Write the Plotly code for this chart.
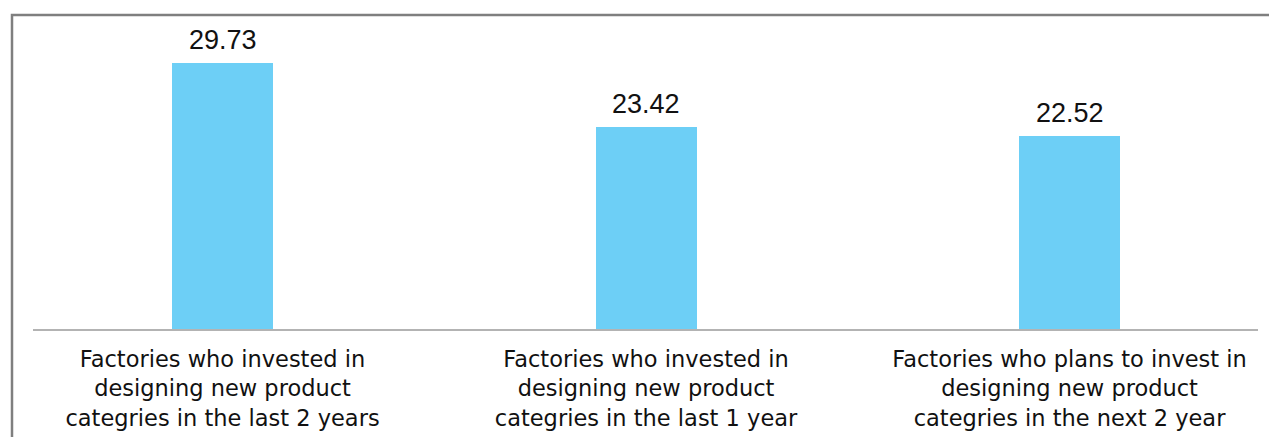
import plotly.graph_objects as go

# Survey results: share of factories (%) investing in new product category design
categories = [
    "Factories who invested in<br>designing new product<br>categries in the last 2 years",
    "Factories who invested in<br>designing new product<br>categries in the last 1 year",
    "Factories who plans to invest in<br>designing new product<br>categries in the next 2 year",
]
values = [29.73, 23.42, 22.52]
positions = list(range(len(categories)))

BAR_COLOR = "#6DCFF6"

W, H = 1269, 437
L, R, T, B = 33, 11, 20, 108
plot_w = W - L - R
plot_h = H - T - B

fig = go.Figure()
fig.add_trace(
    go.Bar(
        x=positions,
        y=values,
        width=0.2385,
        marker=dict(color=BAR_COLOR, line=dict(width=0)),
        hoverinfo="skip",
    )
)

# value labels above each bar
for xi, v in zip(positions, values):
    fig.add_annotation(
        x=xi, y=v, text=f"{v:.2f}", showarrow=False,
        yanchor="bottom", yshift=6,
        font=dict(family="Liberation Sans, Arial, sans-serif", size=27, color="#111111"),
    )

# outer frame (open on the right and bottom edges of the canvas)
def px_x(p):
    return (p - L) / plot_w

def px_y(p):
    return (H - B - p) / plot_h

fig.add_shape(
    type="rect", xref="paper", yref="paper",
    x0=px_x(12), x1=px_x(W + 10), y0=px_y(H + 10), y1=px_y(15),
    line=dict(color="#7f7f7f", width=2.5), fillcolor="rgba(0,0,0,0)",
    layer="above",
)

fig.update_layout(
    width=W, height=H,
    margin=dict(l=L, r=R, t=T, b=B, pad=0, autoexpand=False),
    plot_bgcolor="white", paper_bgcolor="white",
    showlegend=False,
    bargap=0,
    xaxis=dict(
        range=[-0.4475, 2.445],
        tickmode="array", tickvals=positions, ticktext=categories,
        showline=True, linecolor="#b3b3b3", linewidth=2,
        ticks="", showgrid=False, zeroline=False,
        automargin=False,
        ticklabelstandoff=9,
        tickfont=dict(family="DejaVu Sans, sans-serif", size=22.5, color="#111111"),
        fixedrange=True,
    ),
    yaxis=dict(
        range=[3.5, 3.5 + plot_h / 10.14],
        visible=False, showgrid=False, zeroline=False,
        fixedrange=True,
    ),
)

fig.write_html("out.html")
